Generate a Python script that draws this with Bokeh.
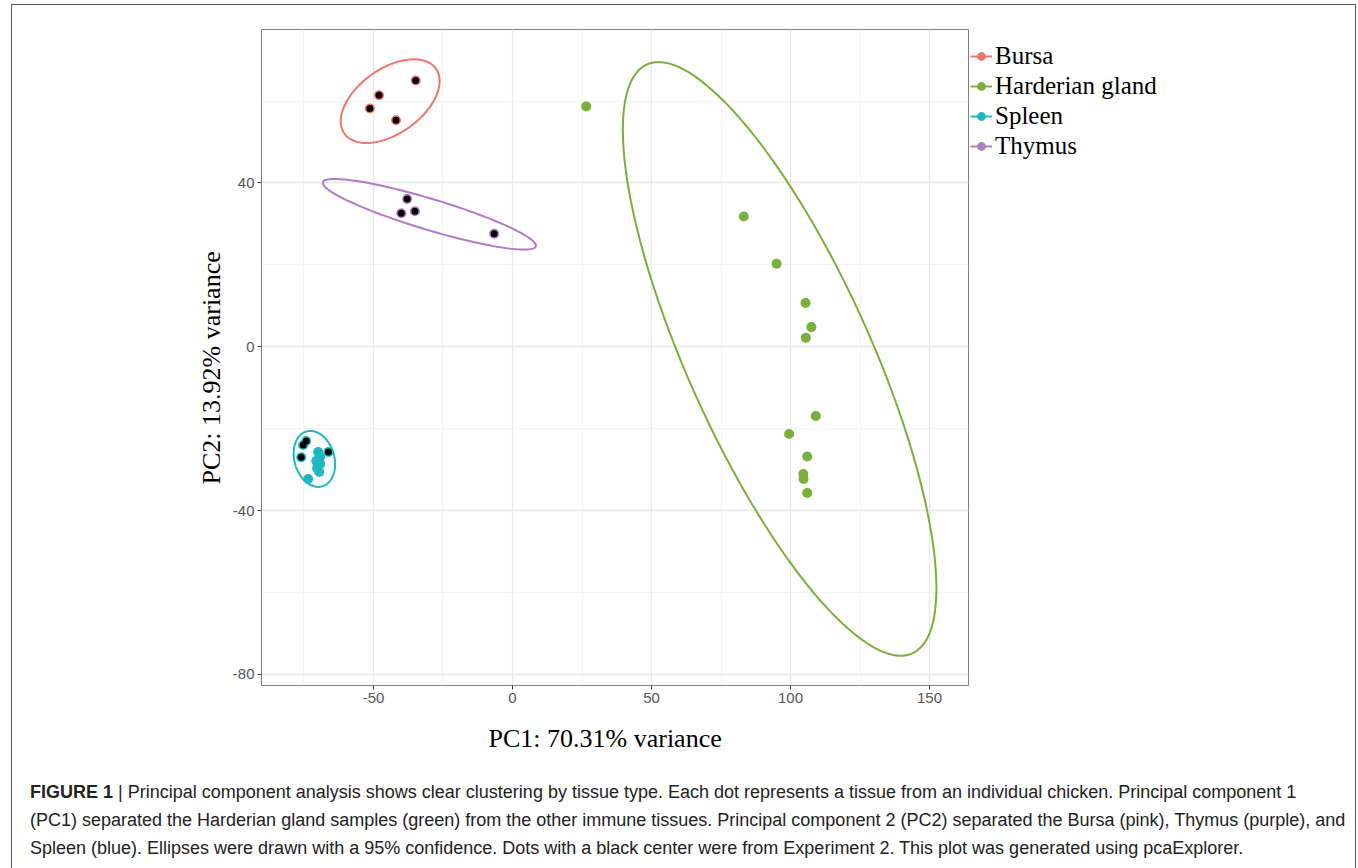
import numpy as np
from bokeh.plotting import figure
from bokeh.layouts import column
from bokeh.models import (Range1d, Legend, LegendItem, Title, Div, FixedTicker,
                          CustomJSTickFormatter)
from bokeh.embed import file_html
from bokeh.resources import INLINE

# ---------------- data ----------------
groups = ["Bursa", "Harderian gland", "Spleen", "Thymus"]
colors = ["#EF756E", "#7AAF3C", "#1DB8C0", "#B07CC6"]

bursa_pc1 = [-34.8, -48.0, -51.3, -41.9]
bursa_pc2 = [65.0, 61.4, 58.2, 55.3]
bursa_exp2 = [1, 1, 1, 1]

harder_pc1 = [26.5, 83.2, 95.0, 105.4, 107.5, 105.5, 109.1, 99.5, 106.0, 104.6, 104.7, 106.0]
harder_pc2 = [58.7, 31.8, 20.3, 10.7, 4.8, 2.2, -16.9, -21.3, -26.8, -31.1, -32.3, -35.7]
harder_exp2 = [0] * 12

spleen_pc1 = [-75.3, -74.2, -76.0, -66.2, -69.9, -69.2, -70.6, -69.2, -70.3, -69.5, -73.5]
spleen_pc2 = [-24.0, -23.0, -27.0, -25.7, -25.7, -26.9, -27.9, -28.6, -29.6, -30.6, -32.3]
spleen_exp2 = [1, 1, 1, 1, 0, 0, 0, 0, 0, 0, 0]

thymus_pc1 = [-37.9, -40.0, -35.1, -6.6]
thymus_pc2 = [36.1, 32.6, 33.1, 27.6]
thymus_exp2 = [1, 1, 1, 1]

x_ticks = [-50, 0, 50, 100, 150]
y_ticks = [-80, -40, 0, 40]
x_label = "PC1: 70.31% variance"
y_label = "PC2: 13.92% variance"
caption_bold = "FIGURE 1"
caption_lines = [
    "| Principal component analysis shows clear clustering by tissue type. Each dot represents a tissue from an individual chicken. Principal component 1",
    "(PC1) separated the Harderian gland samples (green) from the other immune tissues. Principal component 2 (PC2) separated the Bursa (pink), Thymus (purple), and",
    "Spleen (blue). Ellipses were drawn with a 95% confidence. Dots with a black center were from Experiment 2. This plot was generated using pcaExplorer.",
]

data = [
    (bursa_pc1, bursa_pc2, bursa_exp2),
    (harder_pc1, harder_pc2, harder_exp2),
    (spleen_pc1, spleen_pc2, spleen_exp2),
    (thymus_pc1, thymus_pc2, thymus_exp2),
]


def conf_ellipse(xs, ys, prob=0.95, n=120):
    pts = np.column_stack([xs, ys])
    mu = pts.mean(axis=0)
    sigma = np.cov(pts.T)
    L = np.linalg.cholesky(sigma)
    theta = np.linspace(-np.pi, np.pi, n)
    circle = np.column_stack([np.cos(theta), np.sin(theta)])
    ed = np.sqrt(-2.0 * np.log(1.0 - prob))  # chi-square quantile, df=2
    e = circle @ L.T * ed + mu
    return e[:, 0], e[:, 1]


ells = [conf_ellipse(d[0], d[1]) for d in data]

# ggplot-like limits: data (incl. ellipses) range +/- 5%
allx = np.concatenate([e[0] for e in ells] + [np.array(d[0]) for d in data])
ally = np.concatenate([e[1] for e in ells] + [np.array(d[1]) for d in data])
xr = allx.max() - allx.min()
yr = ally.max() - ally.min()
x_range = Range1d(allx.min() - 0.05 * xr, allx.max() + 0.05 * xr)
y_range = Range1d(ally.min() - 0.05 * yr, ally.max() + 0.05 * yr)

# ---------------- layout geometry (page px) ----------------
BOX_L, BOX_T = 8, 5          # canvas origin on the page
FL, FR, FT, FB = 261, 968, 29, 685
CW = 1342
CAP_TOP = 773
FIG_H = CAP_TOP - BOX_T      # figure canvas height; caption below

p = figure(output_backend="svg", toolbar_location=None,
           x_range=x_range, y_range=y_range,
           frame_width=FR - FL, frame_height=FB - FT,
           min_border_left=FL - BOX_L, min_border_right=CW - (FR - BOX_L),
           min_border_top=FT - BOX_T, min_border_bottom=FIG_H - (FB - BOX_T),
           background_fill_color="white", border_fill_color="white")

p.outline_line_color = "#7f7f7f"
p.outline_line_width = 1

# grid
for ax_grid, tk, minor in ((p.xgrid, x_ticks, [-75, -25, 25, 75, 125]),
                           (p.ygrid, y_ticks, [-60, -20, 20, 60])):
    ax_grid.ticker = FixedTicker(ticks=tk, minor_ticks=minor)
    ax_grid.grid_line_color = "#e8e8e8"
    ax_grid.grid_line_width = 1.3
    ax_grid.minor_grid_line_color = "#f1f1f1"
    ax_grid.minor_grid_line_width = 0.8

# axes
for ax, tk in ((p.xaxis, x_ticks), (p.yaxis, y_ticks)):
    ax.ticker = FixedTicker(ticks=tk)
    ax.formatter = CustomJSTickFormatter(code="return String(tick);")
    ax.axis_line_color = None
    ax.major_tick_line_color = "#333333"
    ax.major_tick_out = 4
    ax.major_tick_in = 0
    ax.minor_tick_line_color = None
    ax.major_label_text_font = "Liberation Sans"
    ax.major_label_text_font_size = "15px"
    ax.major_label_text_color = "#555555"
    ax.major_label_standoff = 3

# ellipses and points
items = []
for (xs, ys, ex2), (ex, ey), col, name in zip(data, ells, colors, groups):
    lr = p.line(ex, ey, line_color=col, line_width=2)
    sr = p.scatter(xs, ys, size=10, fill_color=col, line_color=None)
    bx = [x for x, f in zip(xs, ex2) if f]
    by = [y for y, f in zip(ys, ex2) if f]
    if bx:
        p.scatter(bx, by, size=7, fill_color="black", line_color=None)
    items.append(LegendItem(label=name, renderers=[lr, sr]))

legend = Legend(items=items, location=(2, (FB - FT) - 12 - 4 * 30),
                border_line_color=None, background_fill_alpha=0,
                label_text_font="Liberation Serif", label_text_font_size="25px",
                label_text_color="black",
                glyph_width=22, glyph_height=30, label_height=30,
                label_standoff=3, spacing=0, padding=0, margin=0)
p.add_layout(legend, "right")

# axis titles (as Titles in the side panels)
p.add_layout(Title(text=x_label, align="left", offset=488 - FL, standoff=32,
                   text_font="Liberation Serif", text_font_size="26px",
                   text_font_style="normal", text_color="black"), "below")
p.add_layout(Title(text=y_label, align="left", offset=FB - 484, standoff=8,
                   text_font="Liberation Serif", text_font_size="26px",
                   text_font_style="normal", text_color="black"), "left")

# caption (+ the outer figure frame drawn as an overlay box, open at the bottom)
frame_box = ('<div style="position:absolute; left:-2px; top:-%dpx; width:%dpx; '
             'height:%dpx; border:1px solid #5a5a5a; border-bottom:none; '
             'box-sizing:border-box; pointer-events:none;"></div>' %
             (CAP_TOP + 1, CW + 3, 900))
cap_html = (frame_box +
            '<div style="padding-left:%dpx">'
            "<b>%s</b>&nbsp;%s<br>%s<br>%s</div>" %
            (25 - BOX_L, caption_bold, caption_lines[0], caption_lines[1],
             caption_lines[2]))
cap = Div(text=cap_html, width=CW, height=868 - CAP_TOP,
          styles={"font-family": "'Liberation Sans', Arial, sans-serif",
                  "font-size": "18px", "line-height": "28px",
                  "color": "#222222", "white-space": "nowrap",
                  "position": "relative", "overflow": "visible"})

layout = column(p, cap, spacing=0,
                styles={"margin-left": "%dpx" % BOX_L,
                        "margin-top": "%dpx" % BOX_T})

open("out.html", "w").write(file_html(layout, INLINE))
